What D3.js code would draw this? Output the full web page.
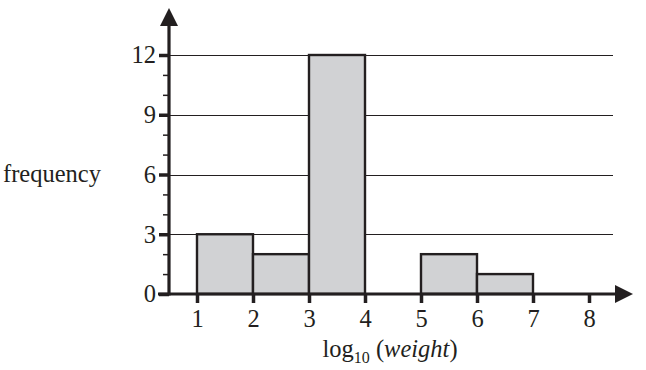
<!DOCTYPE html>
<html><head><meta charset="utf-8">
<script src="https://cdn.jsdelivr.net/npm/d3@7"></script>
<style>body{margin:0;background:#fff}svg{display:block}text{font-family:"Liberation Serif","Times New Roman",serif;fill:#231f20}</style>
</head><body><svg id="c" width="646" height="370"></svg>
<script>
const binStarts = [1, 2, 3, 5, 6];
const binEnds = [2, 3, 4, 6, 7];
const frequencies = [3, 2, 12, 2, 1];
const xTicks = [1, 2, 3, 4, 5, 6, 7, 8];
const yMajorTicks = [0, 3, 6, 9, 12];
const yMinorTicks = [1, 2, 4, 5, 7, 8, 10, 11];

const svg = d3.select("#c");
const x = d3.scaleLinear().domain([0.5, 8.5]).range([169, 617]);
const y = d3.scaleLinear().domain([0, 12]).range([294, 55]);
const ink = "#231f20";
const fs = 24.5;

// gridlines
svg.append("g").selectAll("line").data(yMajorTicks.filter(d => d > 0)).join("line")
  .attr("x1", x(0.5)).attr("x2", 613)
  .attr("y1", d => Math.round(y(d)) + 0.5).attr("y2", d => Math.round(y(d)) + 0.5)
  .attr("stroke", ink).attr("stroke-width", 1.2);

// bars
const bins = frequencies.map((f, i) => ({ a: binStarts[i], b: binEnds[i], f }));
svg.append("g").selectAll("rect").data(bins).join("rect")
  .attr("x", d => x(d.a)).attr("width", d => x(d.b) - x(d.a))
  .attr("y", d => y(d.f)).attr("height", d => y(0) - y(d.f))
  .attr("fill", "#d1d2d4").attr("stroke", ink).attr("stroke-width", 2.4);

// y axis
const yAxis = svg.append("g").attr("transform", `translate(${x(0.5)},0)`);
yAxis.call(d3.axisLeft(y).tickValues(yMajorTicks).tickSize(10).tickPadding(3).tickFormat(d3.format("d")));
yAxis.select(".domain").remove();
yAxis.selectAll(".tick line").attr("stroke", ink).attr("stroke-width", 3.5);
yAxis.selectAll(".tick text").attr("font-size", fs).attr("fill", ink);
const yMinor = svg.append("g").attr("transform", `translate(${x(0.5)},0)`);
yMinor.call(d3.axisLeft(y).tickValues(yMinorTicks).tickSize(6).tickFormat(""));
yMinor.select(".domain").remove();
yMinor.selectAll(".tick line").attr("stroke", ink).attr("stroke-width", 1.5);

// x axis
const xAxis = svg.append("g").attr("transform", `translate(0,${y(0)})`);
xAxis.call(d3.axisBottom(x).tickValues(xTicks).tickSize(9).tickPadding(7).tickFormat(d3.format("d")));
xAxis.select(".domain").remove();
xAxis.selectAll(".tick line").attr("stroke", ink).attr("stroke-width", 3.5);
xAxis.selectAll(".tick text").attr("font-size", fs).attr("fill", ink);

// axis lines
svg.append("line").attr("x1", 158).attr("x2", 618).attr("y1", y(0)).attr("y2", y(0))
  .attr("stroke", ink).attr("stroke-width", 3.2);
svg.append("line").attr("x1", x(0.5)).attr("x2", x(0.5)).attr("y1", y(0) + 1.5).attr("y2", 22)
  .attr("stroke", ink).attr("stroke-width", 3.2);
// arrows
svg.append("path").attr("d", `M615,${y(0) - 9} L633,${y(0)} L615,${y(0) + 9} Z`).attr("fill", ink);
svg.append("path").attr("d", `M${x(0.5) - 9},26 L${x(0.5)},8 L${x(0.5) + 9},26 Z`).attr("fill", ink);

// labels
svg.append("text").attr("x", 3).attr("y", 182).attr("font-size", fs).text("frequency");
const xl = svg.append("text").attr("x", 390).attr("y", 357).attr("text-anchor", "middle").attr("font-size", fs);
xl.append("tspan").text("log");
xl.append("tspan").attr("font-size", 16).attr("dy", 6).text("10");
xl.append("tspan").attr("dy", -6).text(" (");
xl.append("tspan").attr("font-style", "italic").text("weight");
xl.append("tspan").text(")");
</script></body></html>
